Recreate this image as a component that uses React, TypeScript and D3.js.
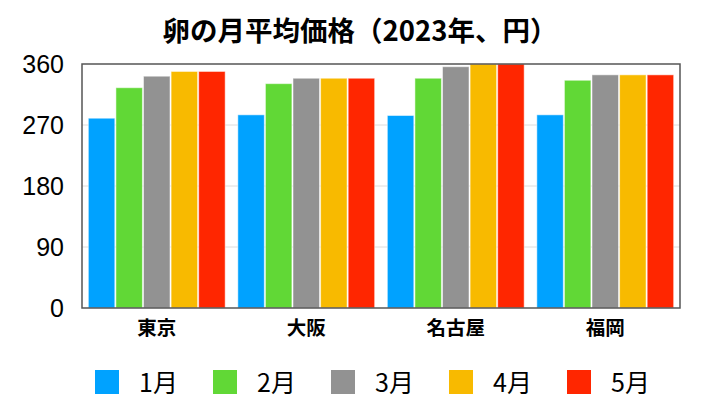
import React from "react";
import * as d3 from "d3";

const cities = ["東京", "大阪", "名古屋", "福岡"];
const months = ["1月", "2月", "3月", "4月", "5月"];
const colors = ["#00A2FF", "#61D836", "#929292", "#F8BA00", "#FF2600"];
const jan = [280, 285, 284, 285];
const feb = [325, 331, 339, 336];
const mar = [342, 339, 356, 344];
const apr = [349, 339, 360, 344];
const may = [349, 339, 360, 344];
const series = [jan, feb, mar, apr, may];
const yTicks = [0, 90, 180, 270, 360];
const title = "卵の月平均価格（2023年、円）";

const W = 720, H = 411;
const m = { left: 82, right: 680, top: 64, bottom: 308 };
const FONT = "'Noto Sans CJK JP', 'Noto Sans', sans-serif";
const NUMFONT = "'Liberation Sans', Arial, sans-serif";

export default function App() {
  const x0 = d3.scaleBand().domain(cities).range([m.left, m.right]).paddingInner(0.07).paddingOuter(0.035);
  const x1 = d3.scaleBand().domain(months).range([0, x0.bandwidth()]).padding(0.04);
  const y = d3.scaleLinear().domain([0, 360]).range([m.bottom, m.top]);

  return (
    <svg width={W} height={H} style={{ position: "absolute", left: 0, top: 0, background: "#fff" }}>
      <text x={360} y={41} textAnchor="middle" fontFamily={FONT} fontWeight="bold" fontSize={27.5} fill="#000">{title}</text>
      {yTicks.filter(t => t > 0 && t < 360).map(t => (
        <line key={t} x1={m.left} x2={m.right} y1={y(t)} y2={y(t)} stroke="#dcdcdc" strokeWidth={1} />
      ))}
      {yTicks.map(t => (
        <text key={"l" + t} x={64} y={y(t)} dy="0.36em" textAnchor="end" fontFamily={NUMFONT} fontSize={25} fill="#000">{t}</text>
      ))}
      {series.map((vals, si) =>
        cities.map((c, ci) => {
          const bx = (x0(c) as number) + (x1(months[si]) as number);
          return (
            <rect key={si + "-" + ci} x={bx} y={y(vals[ci])} width={x1.bandwidth()} height={m.bottom - y(vals[ci])}
              fill={colors[si]} stroke="#ffffff" strokeOpacity={0.5} strokeWidth={1} />
          );
        })
      )}
      <rect x={m.left} y={m.top} width={m.right - m.left} height={m.bottom - m.top} fill="none" stroke="#555" strokeWidth={1.5} />
      {cities.map(c => (
        <text key={c} x={(x0(c) as number) + x0.bandwidth() / 2} y={335} textAnchor="middle" fontFamily={FONT} fontWeight="bold" fontSize={19.5} fill="#000">{c}</text>
      ))}
      {months.map((mo, i) => (
        <g key={mo} transform={`translate(${95 + i * 118},370)`}>
          <rect x={0} y={0} width={24} height={24} fill={colors[i]} />
          <text x={44} y={22} fontFamily={FONT} fontSize={25} fill="#000">{mo}</text>
        </g>
      ))}
    </svg>
  );
}
